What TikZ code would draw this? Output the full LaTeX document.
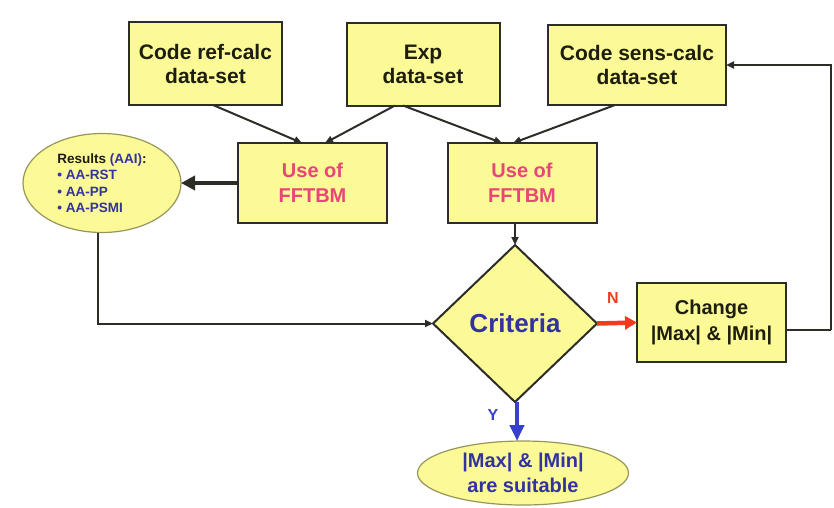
\documentclass[tikz,border=0pt]{standalone}
\usepackage{fontspec}
\setmainfont{Liberation Sans}
\usetikzlibrary{shapes.geometric,arrows.meta}

\definecolor{boxfill}{RGB}{252,250,150}
\definecolor{edge}{RGB}{45,45,40}
\definecolor{softedge}{RGB}{150,150,90}
\definecolor{ink}{RGB}{30,30,15}
\definecolor{pinkink}{RGB}{232,70,120}
\definecolor{navy}{RGB}{50,50,160}
\definecolor{flowred}{RGB}{240,60,30}
\definecolor{flowblue}{RGB}{55,65,205}

\tikzset{
  databox/.style={draw=edge, fill=boxfill, line width=2pt, inner sep=0pt, outer sep=0pt,
    minimum width=153pt, minimum height=83pt, align=center, text=ink,
    font=\bfseries\fontsize{21}{24}\selectfont},
  fftbox/.style={databox, minimum width=149pt, minimum height=80pt, text=pinkink,
    font=\bfseries\fontsize{20}{25}\selectfont},
  chgbox/.style={databox, minimum width=149pt, minimum height=79pt,
    font=\bfseries\fontsize{20}{26}\selectfont},
  decision/.style={diamond, draw=edge, fill=boxfill, line width=2pt, inner sep=0pt, outer sep=0pt,
    aspect=1.045, minimum width=164pt, minimum height=157pt, text=navy,
    font=\bfseries\fontsize{26}{30}\selectfont},
  bubble/.style={ellipse, draw=softedge, fill=boxfill, line width=1.2pt, inner sep=0pt, outer sep=0pt},
  link/.style={draw=edge, line width=2pt, -{Triangle[length=8pt,width=7pt]}},
  plainlink/.style={draw=edge, line width=2pt},
  heavy/.style={line width=4.5pt, -{Triangle[length=14pt,width=14pt]}},
  tag/.style={font=\bfseries\fontsize{16}{18}\selectfont}
}

\begin{document}
\begin{tikzpicture}[x=1pt,y=-1pt]
\useasboundingbox (0,0) rectangle (834,507);

% data sets
\node[databox] (ref)  at (205.5,63.5) {Code ref-calc\\data-set};
\node[databox] (exp)  at (423,64)     {Exp\\data-set};
\node[databox, minimum width=178pt, minimum height=80pt] (sens) at (637,65) {Code sens-calc\\data-set};

% FFTBM applications
\node[fftbox] (fa) at (312.5,183) {Use of\\FFTBM};
\node[fftbox] (fb) at (522,183)   {Use of\\FFTBM};

% results of the reference calculation
\node[bubble, minimum width=158pt, minimum height=99pt, align=left,
      font=\bfseries\fontsize{13.5}{16.5}\selectfont] (res) at (102,183)
  {\textcolor{ink}{Results} \textcolor{navy}{(AAI)}\textcolor{ink}{:}\\
   \textcolor{navy}{• AA-RST}\\
   \textcolor{navy}{• AA-PP}\\
   \textcolor{navy}{• AA-PSMI}};

% decision and its outcomes
\node[decision] (crit) at (515,323.5) {Criteria};
\node[chgbox] (chg) at (711.5,322.5) {Change\\|Max| \& |Min|};
\node[bubble, minimum width=211pt, minimum height=64pt, align=center, text=navy,
      font=\bfseries\fontsize{20}{25}\selectfont] (ok) at (523,473) {|Max| \& |Min|\\are suitable};

% inputs to the FFTBM boxes
\draw[link] ([xshift=7.5pt]ref.south) -- ([xshift=-10.5pt]fa.north);
\draw[link] ([xshift=-28pt]exp.south) -- ([xshift=12.5pt]fa.north);
\draw[link] ([xshift=-20pt]exp.south) -- ([xshift=-20pt]fb.north);
\draw[link] ([xshift=-22pt]sens.south) -- ([xshift=-9pt]fb.north);

% FFTBM outputs
\draw[heavy, draw=edge] (fa.west) -- (res.east);
\draw[link] (fb.south -| crit.north) -- (crit.north);
\draw[link] ([xshift=-4pt]res.south) |- (crit.west);

% decision branches
\draw[heavy, draw=flowred, -{Triangle[length=12pt,width=13pt]}] (crit.east) -- (chg.west);
\node[tag, text=flowred] (nlab) at (613,298) {N};
\draw[heavy, draw=flowblue, -{Triangle[length=16pt,width=14pt]}] ([xshift=2pt]crit.south) -- ([xshift=2pt]crit.south |- ok.north);
\node[tag, text=flowblue] (ylab) at (493,415) {Y};

% feedback loop to the sensitivity data set
\coordinate (turn) at (831,330);
\draw[plainlink] (chg.east |- turn) -- (turn);
\draw[link] (turn) |- (sens.east);
\end{tikzpicture}
\end{document}
